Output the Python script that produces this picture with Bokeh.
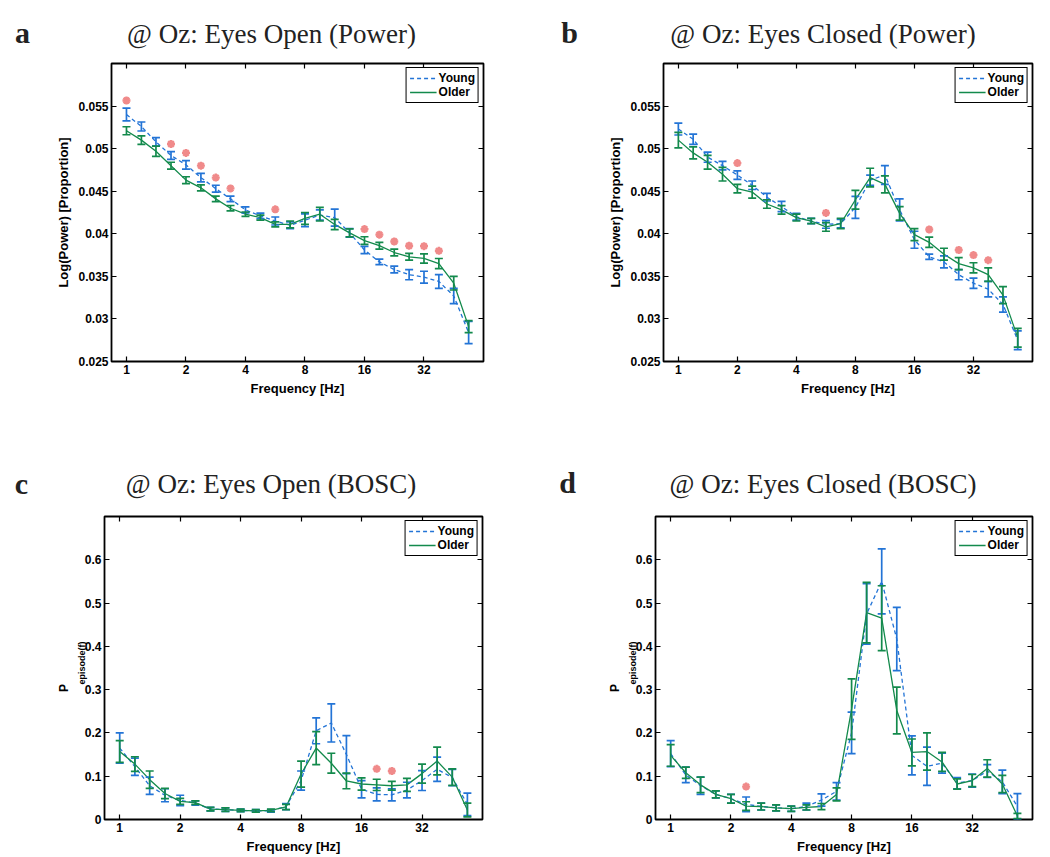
from bokeh.plotting import figure
from bokeh.models import (ColumnDataSource, Whisker, TeeHead, FixedTicker, LogAxis, LinearAxis,
                          Legend, LegendItem, Label, CustomJSTickFormatter, Range1d)
from bokeh.layouts import column, row
from bokeh.embed import file_html
from bokeh.resources import INLINE

# ---------------- data ----------------
freqs = [1.0, 1.19, 1.41, 1.68, 2.0, 2.38, 2.83, 3.36, 4.0, 4.76, 5.66, 6.73,
         8.0, 9.51, 11.31, 13.45, 16.0, 19.03, 22.63, 26.91, 32.0, 38.05, 45.25, 53.82]
x_ticks = [1, 2, 4, 8, 16, 32]
power_ticks = [0.025, 0.03, 0.035, 0.04, 0.045, 0.05, 0.055]
bosc_ticks = [0, 0.1, 0.2, 0.3, 0.4, 0.5, 0.6]
series_names = ["Young", "Older"]

# a: Eyes Open (Power)
young_a = [0.0540, 0.0526, 0.0508, 0.0492, 0.0481, 0.0466, 0.0453, 0.0441, 0.0428, 0.0421, 0.0415, 0.0410,
           0.0416, 0.0422, 0.0419, 0.0401, 0.0381, 0.0367, 0.0358, 0.0352, 0.0349, 0.0344, 0.0327, 0.0284]
young_a_se = [0.00075, 0.00053, 0.0005, 0.00045, 0.0005, 0.0005, 0.0004, 0.00033, 0.00035, 0.00033, 0.00047, 0.0004,
              0.00075, 0.0006, 0.001, 0.0005, 0.00043, 0.00033, 0.0004, 0.0006, 0.0007, 0.0008, 0.0009, 0.0013]
older_a = [0.0521, 0.0510, 0.0497, 0.0480, 0.0463, 0.0454, 0.0441, 0.0430, 0.0423, 0.0419, 0.0411, 0.0411,
           0.0418, 0.0423, 0.0411, 0.0401, 0.0392, 0.0386, 0.0378, 0.0373, 0.0371, 0.0365, 0.0342, 0.0291]
older_a_se = [0.00047, 0.0005, 0.0006, 0.0004, 0.0004, 0.00035, 0.00033, 0.00032, 0.00026, 0.0003, 0.0003, 0.0004,
              0.0007, 0.0008, 0.0006, 0.00047, 0.00045, 0.0004, 0.0004, 0.0004, 0.00055, 0.0006, 0.0008, 0.0007]
sig_a = [0, 3, 4, 5, 6, 7, 10, 16, 17, 18, 19, 20, 21]

# b: Eyes Closed (Power)
young_b = [0.0523, 0.0511, 0.0490, 0.0480, 0.0469, 0.0457, 0.0443, 0.0432, 0.0420, 0.0415, 0.0411, 0.0412,
           0.0431, 0.0463, 0.0469, 0.0428, 0.0393, 0.0373, 0.0367, 0.0352, 0.0342, 0.0335, 0.0317, 0.0275]
young_b_se = [0.0007, 0.0006, 0.0006, 0.0005, 0.0005, 0.0005, 0.00045, 0.0006, 0.0004, 0.0003, 0.00045, 0.0005,
              0.0013, 0.0006, 0.0011, 0.0013, 0.001, 0.0003, 0.0007, 0.0006, 0.0006, 0.0009, 0.0009, 0.0011]
older_b = [0.0510, 0.0495, 0.0484, 0.0470, 0.0453, 0.0449, 0.0435, 0.0428, 0.0419, 0.0415, 0.0408, 0.0412,
           0.0440, 0.0466, 0.0458, 0.0424, 0.0399, 0.0390, 0.0376, 0.0365, 0.0360, 0.0352, 0.0328, 0.0278]
older_b_se = [0.0009, 0.0007, 0.0008, 0.0008, 0.0005, 0.0007, 0.0005, 0.0005, 0.0004, 0.0003, 0.0005, 0.0006,
              0.0011, 0.0011, 0.001, 0.0008, 0.0007, 0.0006, 0.0007, 0.0007, 0.0006, 0.0008, 0.001, 0.0011]
sig_b = [4, 10, 17, 19, 20, 21]

# c: Eyes Open (BOSC)
young_c = [0.165, 0.122, 0.078, 0.056, 0.044, 0.038, 0.024, 0.023, 0.021, 0.020, 0.020, 0.030,
           0.090, 0.205, 0.223, 0.150, 0.070, 0.058, 0.057, 0.068, 0.090, 0.116, 0.097, 0.035]
young_c_se = [0.035, 0.02, 0.02, 0.015, 0.012, 0.005, 0.004, 0.004, 0.003, 0.003, 0.003, 0.007,
              0.022, 0.03, 0.044, 0.044, 0.02, 0.015, 0.014, 0.018, 0.023, 0.028, 0.019, 0.026]
older_c = [0.157, 0.128, 0.092, 0.060, 0.042, 0.039, 0.024, 0.023, 0.021, 0.020, 0.021, 0.029,
           0.105, 0.165, 0.130, 0.089, 0.082, 0.080, 0.078, 0.080, 0.106, 0.135, 0.098, 0.022]
older_c_se = [0.025, 0.017, 0.02, 0.012, 0.007, 0.004, 0.004, 0.004, 0.003, 0.003, 0.003, 0.006,
              0.03, 0.038, 0.023, 0.018, 0.014, 0.013, 0.01, 0.015, 0.022, 0.032, 0.019, 0.016]
sig_c = [17, 18]

# d: Eyes Closed (BOSC)
young_d = [0.152, 0.103, 0.078, 0.058, 0.048, 0.035, 0.030, 0.027, 0.025, 0.030, 0.045, 0.065,
           0.200, 0.475, 0.550, 0.417, 0.148, 0.123, 0.130, 0.084, 0.090, 0.112, 0.087, 0.030]
young_d_se = [0.03, 0.018, 0.02, 0.008, 0.01, 0.017, 0.008, 0.007, 0.006, 0.008, 0.014, 0.02,
              0.048, 0.07, 0.075, 0.073, 0.045, 0.044, 0.023, 0.013, 0.015, 0.015, 0.027, 0.03]
older_d = [0.148, 0.108, 0.080, 0.058, 0.048, 0.031, 0.030, 0.027, 0.025, 0.028, 0.030, 0.058,
           0.255, 0.478, 0.465, 0.252, 0.155, 0.157, 0.133, 0.082, 0.090, 0.118, 0.082, 0.008]
older_d_se = [0.025, 0.013, 0.018, 0.008, 0.01, 0.01, 0.008, 0.007, 0.006, 0.006, 0.007, 0.015,
              0.07, 0.07, 0.075, 0.054, 0.031, 0.043, 0.022, 0.012, 0.014, 0.02, 0.02, 0.006]
sig_d = [5]

# ---------------- style ----------------
YOUNG = "#2374d6"
OLDER = "#138a4c"
STAR = "#f08a8a"
SANS = "Liberation Sans"
SERIF = "Liberation Serif"
X_START, X_END = 0.84, 64
NBSP = "\u00a0"


def style_main_axis(ax):
    ax.major_label_text_font = SANS
    ax.major_label_text_font_style = "bold"
    ax.major_label_text_font_size = "12px"
    ax.major_label_text_color = "black"
    ax.major_tick_in = 5
    ax.major_tick_out = 0
    ax.major_tick_line_width = 1.2
    ax.minor_tick_line_color = None
    ax.axis_line_color = None
    ax.axis_label_text_font = SANS
    ax.axis_label_text_font_style = "bold"
    ax.axis_label_text_font_size = "13px"
    ax.axis_label_text_color = "black"
    ax.major_label_standoff = 3
    ax.axis_label_standoff = 4


def style_dummy_axis(ax):
    ax.major_label_text_font_size = "0px"
    ax.major_label_text_color = None
    ax.major_label_standoff = 0
    ax.major_tick_in = 5
    ax.major_tick_out = 0
    ax.major_tick_line_width = 1.2
    ax.minor_tick_line_color = None
    ax.axis_line_color = None


def label_axis(text, size, standoff):
    ax = LinearAxis(ticker=FixedTicker(ticks=[]), axis_label=text)
    style_dummy_axis(ax)
    ax.major_tick_line_color = None
    ax.axis_label_text_font = SANS
    ax.axis_label_text_font_style = "bold"
    ax.axis_label_text_font_size = size
    ax.axis_label_text_color = "black"
    ax.axis_label_standoff = standoff
    return ax


def make_header(width, height, letter, title, title_xy, letter_xy):
    h = figure(width=width, height=height, x_range=Range1d(0, width), y_range=Range1d(0, height),
               min_border=0, x_axis_location=None, y_axis_location=None,
               output_backend="svg", toolbar_location=None, title_location=None)
    h.frame_align = False
    h.grid.visible = False
    h.outline_line_color = None
    h.background_fill_color = "white"
    h.border_fill_color = "white"
    h.add_layout(Label(x=title_xy[0], y=title_xy[1], text=title,
                       text_font=SERIF, text_font_size="27px", text_color="#222222",
                       text_align="center", text_baseline="middle"))
    h.add_layout(Label(x=letter_xy[0], y=letter_xy[1], text=letter,
                       text_font=SERIF, text_font_style="bold", text_font_size="30px", text_color="#222222",
                       text_align="center", text_baseline="middle"))
    return h


def make_panel(ym, yse, om, ose, sig, yrange, yticks, star_off,
               frame_w, frame_h, borders, ylabel=None, plabel=False):
    bl, br, bt, bb = borders
    p = figure(x_axis_type="log", x_range=Range1d(X_START, X_END), y_range=Range1d(*yrange),
               frame_width=frame_w, frame_height=frame_h,
               min_border_left=bl, min_border_right=br, min_border_top=bt, min_border_bottom=bb,
               output_backend="svg", toolbar_location=None, title_location=None)
    p.grid.visible = False
    p.outline_line_color = "black"
    p.outline_line_width = 1.8
    p.outline_line_alpha = 1.0
    p.background_fill_color = "white"
    p.border_fill_color = "white"

    xa = p.xaxis[0]
    ya = p.yaxis[0]
    style_main_axis(xa)
    style_main_axis(ya)
    xa.ticker = FixedTicker(ticks=x_ticks)
    xa.formatter = CustomJSTickFormatter(code="return String(tick);")
    ya.ticker = FixedTicker(ticks=yticks)
    ya.formatter = CustomJSTickFormatter(code="return String(tick);")
    xa.axis_label = "Frequency [Hz]"
    if ylabel:
        ya.axis_label = ylabel

    top = LogAxis(ticker=FixedTicker(ticks=x_ticks))
    style_dummy_axis(top)
    p.add_layout(top, "above")
    right = LinearAxis(ticker=FixedTicker(ticks=yticks))
    style_dummy_axis(right)
    p.add_layout(right, "right")

    if plabel:
        # P with subscript "episode(f)": subscript sits next to the axis, P outside it
        p.add_layout(label_axis(NBSP * 4 + "episode(f)", "9px", -5), "left")
        p.add_layout(label_axis("P" + NBSP * 12, "12px", 3), "left")

    # significance markers
    star_x = [freqs[i] for i in sig]
    star_y = [max(ym[i] + yse[i], om[i] + ose[i]) + star_off for i in sig]
    p.scatter(star_x, star_y, marker="asterisk", size=8, line_color=STAR, line_width=2.4)

    items = []
    for name, m, s, col, dash in [(series_names[0], ym, yse, YOUNG, "4 3"),
                                  (series_names[1], om, ose, OLDER, "solid")]:
        src = ColumnDataSource(dict(f=freqs, m=m,
                                    lo=[a - b for a, b in zip(m, s)],
                                    hi=[a + b for a, b in zip(m, s)]))
        r = p.line("f", "m", source=src, line_color=col, line_width=1.3, line_dash=dash)
        w = Whisker(source=src, base="f", lower="lo", upper="hi", line_color=col, line_width=1.7,
                    upper_head=TeeHead(size=8, line_color=col, line_width=1.7),
                    lower_head=TeeHead(size=8, line_color=col, line_width=1.7), level="glyph")
        p.add_layout(w)
        items.append(LegendItem(label=name, renderers=[r]))

    leg = Legend(items=items, location="top_right", margin=4, padding=3, spacing=0,
                 border_line_color="black", border_line_width=1.5, border_line_alpha=1.0,
                 background_fill_color="white", background_fill_alpha=1.0,
                 label_text_font=SANS, label_text_font_style="bold", label_text_font_size="12px",
                 label_text_color="black", glyph_width=27, glyph_height=14, label_height=14,
                 label_standoff=2)
    p.add_layout(leg)
    return p


# top row: header 0..55, frame 63..361 ; bottom row: header 430..505, frame 516..819
ha = make_header(520, 55, "a", "@ Oz: Eyes Open (Power)", (271, 22), (22, 23))
pa = make_panel(young_a, young_a_se, older_a, older_a_se, sig_a, (0.025, 0.060), power_ticks, 0.0009,
                372, 298, (111, 37, 8, 69), ylabel="Log(Power) [Proportion]")
hb = make_header(528, 55, "b", "@ Oz: Eyes Closed (Power)", (302.5, 22), (49, 23))
pb = make_panel(young_b, young_b_se, older_b, older_b_se, sig_b, (0.025, 0.060), power_ticks, 0.0009,
                369, 298, (143, 16, 8, 69), ylabel="Log(Power) [Proportion]")
hc = make_header(520, 75, "c", "@ Oz: Eyes Open (BOSC)", (270.5, 22), (21, 22))
pc = make_panel(young_c, young_c_se, older_c, older_c_se, sig_c, (0, 0.7), bosc_ticks, 0.024,
                378, 303, (104, 38, 11, 36), plabel=True)
hd = make_header(528, 75, "d", "@ Oz: Eyes Closed (BOSC)", (302.5, 22), (47, 23))
pd_ = make_panel(young_d, young_d_se, older_d, older_d_se, sig_d, (0, 0.7), bosc_ticks, 0.024,
                 377, 303, (135, 16, 11, 36), plabel=True)

layout = column(row(column(ha, pa), column(hb, pb)),
                row(column(hc, pc), column(hd, pd_)))

with open("out.html", "w") as fh:
    fh.write(file_html(layout, INLINE, "Oz power and BOSC"))
